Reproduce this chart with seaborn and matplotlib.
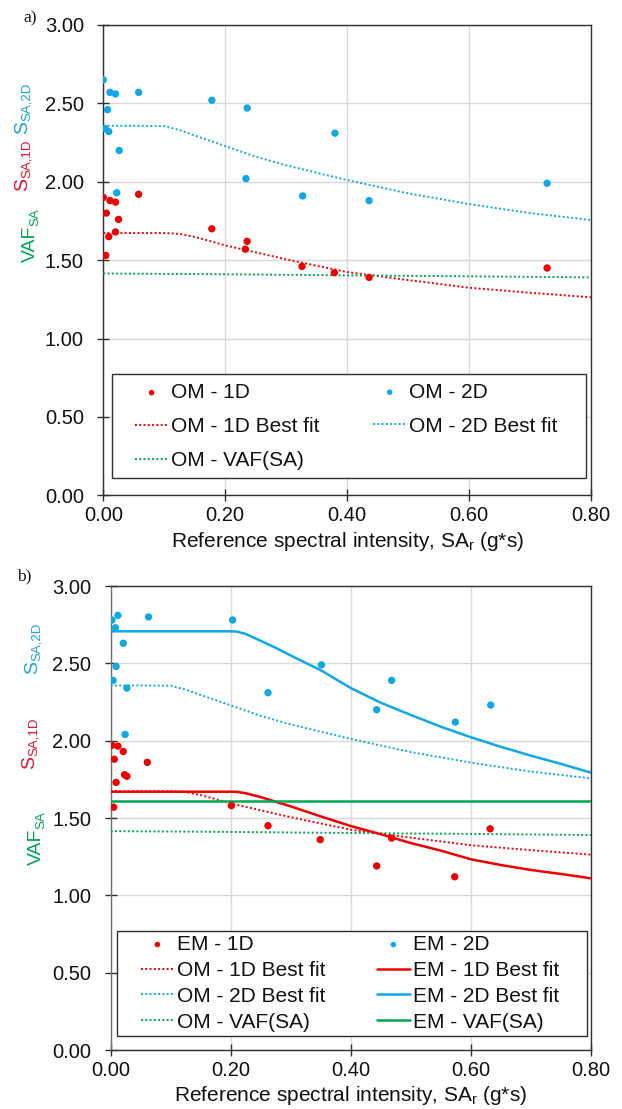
import matplotlib
matplotlib.use("Agg")
import matplotlib.pyplot as plt
from matplotlib.patches import Rectangle
import seaborn as sns

# ---------------- data ----------------
# Panel a) OM records
om1d_x = [0.000, 0.011, 0.020, 0.058, 0.005, 0.025, 0.020, 0.009, 0.004, 0.178, 0.236, 0.233, 0.326, 0.379, 0.436, 0.728]
om1d_y = [1.90, 1.88, 1.87, 1.92, 1.80, 1.76, 1.68, 1.65, 1.53, 1.70, 1.62, 1.57, 1.46, 1.42, 1.39, 1.45]
om2d_x = [0.000, 0.011, 0.020, 0.058, 0.178, 0.236, 0.007, 0.003, 0.009, 0.026, 0.234, 0.022, 0.380, 0.327, 0.436, 0.728]
om2d_y = [2.65, 2.57, 2.56, 2.57, 2.52, 2.47, 2.46, 2.34, 2.32, 2.20, 2.02, 1.93, 2.31, 1.91, 1.88, 1.99]

# OM best fits (shared by both panels)
om_fit_x = [0.00, 0.05, 0.10, 0.125, 0.15, 0.175, 0.20, 0.25, 0.30, 0.40, 0.50, 0.60, 0.70, 0.80]
om2d_fit = [2.357, 2.357, 2.355, 2.330, 2.295, 2.262, 2.228, 2.160, 2.105, 2.011, 1.926, 1.858, 1.800, 1.756]
om1d_fit = [1.673, 1.673, 1.673, 1.668, 1.648, 1.622, 1.594, 1.550, 1.505, 1.424, 1.373, 1.324, 1.292, 1.263]
om_vaf_x = [0.00, 0.20, 0.40, 0.60, 0.80]
om_vaf = [1.415, 1.410, 1.403, 1.397, 1.390]

# Panel b) EM records
em1d_x = [0.002, 0.012, 0.021, 0.006, 0.061, 0.023, 0.027, 0.009, 0.005, 0.201, 0.262, 0.349, 0.443, 0.468, 0.573, 0.632]
em1d_y = [1.97, 1.965, 1.93, 1.88, 1.86, 1.78, 1.77, 1.73, 1.57, 1.58, 1.45, 1.36, 1.19, 1.37, 1.12, 1.43]
em2d_x = [0.002, 0.012, 0.063, 0.203, 0.008, 0.021, 0.009, 0.004, 0.027, 0.262, 0.024, 0.351, 0.468, 0.443, 0.574, 0.633]
em2d_y = [2.78, 2.81, 2.80, 2.78, 2.73, 2.63, 2.48, 2.39, 2.34, 2.31, 2.04, 2.49, 2.39, 2.20, 2.12, 2.23]

em_fit_x = [0.00, 0.10, 0.20, 0.21, 0.225, 0.25, 0.275, 0.30, 0.35, 0.40, 0.45, 0.50, 0.55, 0.60, 0.65, 0.70, 0.75, 0.80]
em2d_fit = [2.707, 2.707, 2.707, 2.705, 2.690, 2.645, 2.600, 2.550, 2.455, 2.340, 2.245, 2.166, 2.090, 2.022, 1.960, 1.903, 1.850, 1.793]
em1d_fit = [1.670, 1.670, 1.670, 1.669, 1.660, 1.635, 1.605, 1.575, 1.510, 1.448, 1.395, 1.338, 1.289, 1.233, 1.196, 1.164, 1.138, 1.110]
em_vaf_x = [0.00, 0.80]
em_vaf = [1.612, 1.612]

x_ticks = [0.0, 0.2, 0.4, 0.6, 0.8]
y_ticks = [0.0, 0.5, 1.0, 1.5, 2.0, 2.5, 3.0]

legend_a_col1 = ["OM - 1D", "OM - 1D Best fit", "OM - VAF(SA)"]
legend_a_col2 = ["OM - 2D", "OM - 2D Best fit"]
legend_b_col1 = ["EM - 1D", "OM - 1D Best fit", "OM - 2D Best fit", "OM - VAF(SA)"]
legend_b_col2 = ["EM - 2D", "EM - 1D Best fit", "EM - 2D Best fit", "EM - VAF(SA)"]

# ---------------- style ----------------
sns.set_theme(style="white")
plt.rcParams["font.family"] = ["Liberation Sans", "DejaVu Sans"]
plt.rcParams["mathtext.default"] = "regular"
plt.rcParams["mathtext.fontset"] = "custom"
plt.rcParams["mathtext.rm"] = "Liberation Sans"

RED = "#EE0000"
BLUE = "#0FA8E6"
GREEN = "#00A650"
LBL_RED = "#E8102E"
LBL_BLUE = "#1AA5DA"
LBL_GREEN = "#00A651"
DOT = (0, (1, 1.2))
FS_TICK = 14.5
FS_LEG = 15
FS_LAB = 15
TXT = "#111111"

W, H = 622, 1109
fig = plt.figure(figsize=(W / 100, H / 100), dpi=100)
ax1 = fig.add_axes([103.3 / W, 1 - 495.3 / H, (591 - 103.3) / W, (495.3 - 25) / H])
ax2 = fig.add_axes([110.7 / W, 1 - 1050 / H, (591 - 110.7) / W, (1050 - 586) / H])


def style_axes(ax):
    ax.set_xlim(0, 0.8)
    ax.set_ylim(0, 3.0)
    ax.set_xticks(x_ticks)
    ax.set_yticks(y_ticks)
    ax.set_xticklabels([f"{v:.2f}" for v in x_ticks])
    ax.set_yticklabels([f"{v:.2f}" for v in y_ticks])
    ax.grid(True, color="#d9d9d9", lw=1)
    ax.set_axisbelow(True)
    for s in ax.spines.values():
        s.set_visible(True)
        s.set_color("#303030")
        s.set_linewidth(1.0)
    ax.tick_params(axis="both", which="both", direction="inout", length=9, width=1,
                   color="#303030", labelsize=FS_TICK, labelcolor=TXT,
                   bottom=True, left=True, top=False, right=False)
    ax.tick_params(axis="y", pad=9.5)
    ax.tick_params(axis="x", pad=3.5)
    ax.set_xlabel("Reference spectral intensity, SA$_r$ (g*s)", fontsize=FS_LAB, labelpad=3, color=TXT)
    ax.set_ylabel("")


def scatter(ax, x, y, color, label):
    sns.scatterplot(x=x, y=y, ax=ax, color=color, s=28, edgecolor="none", linewidth=0, label=label, zorder=4)


def line(ax, x, y, color, label, ls="-", lw=1.2):
    sns.lineplot(x=x, y=y, ax=ax, color=color, linestyle=ls, lw=lw, label=label, errorbar=None, zorder=3)


# ---- panel a ----
scatter(ax1, om1d_x, om1d_y, RED, "OM - 1D")
scatter(ax1, om2d_x, om2d_y, BLUE, "OM - 2D")
line(ax1, om_fit_x, om1d_fit, RED, "OM - 1D Best fit", DOT, 1.4)
line(ax1, om_fit_x, om2d_fit, BLUE, "OM - 2D Best fit", DOT, 1.4)
line(ax1, om_vaf_x, om_vaf, GREEN, "OM - VAF(SA)", DOT, 1.4)
style_axes(ax1)

# ---- panel b ----
scatter(ax2, em1d_x, em1d_y, RED, "EM - 1D")
scatter(ax2, em2d_x, em2d_y, BLUE, "EM - 2D")
line(ax2, om_fit_x, om1d_fit, RED, "OM - 1D Best fit", DOT, 1.4)
line(ax2, om_fit_x, om2d_fit, BLUE, "OM - 2D Best fit", DOT, 1.4)
line(ax2, om_vaf_x, om_vaf, GREEN, "OM - VAF(SA)", DOT, 1.4)
line(ax2, em_fit_x, em1d_fit, RED, "EM - 1D Best fit", "-", 1.8)
line(ax2, em_fit_x, em2d_fit, BLUE, "EM - 2D Best fit", "-", 1.8)
line(ax2, em_vaf_x, em_vaf, GREEN, "EM - VAF(SA)", "-", 1.8)
style_axes(ax2)
ax2.spines["left"].set_color("#707070")


def make_legend(ax, col1, col2, x1, x2, yc, frame, spacing):
    h, l = ax.get_legend_handles_labels()
    d = dict(zip(l, h))
    if ax.get_legend() is not None:
        ax.get_legend().remove()
    x0, y0, x1f, y1f = frame
    ax.add_patch(Rectangle((x0, y0), x1f - x0, y1f - y0, transform=ax.transAxes,
                           facecolor="white", edgecolor="#303030", lw=1.0, zorder=6))
    legs = []
    for cols, xa in ((col1, x1), (col2, x2)):
        leg = ax.legend([d[k] for k in cols], cols, loc="center left", bbox_to_anchor=(xa, yc),
                        frameon=False, fontsize=FS_LEG, borderpad=0, borderaxespad=0,
                        handlelength=1.6, handletextpad=0.12, labelspacing=spacing,
                        markerscale=0.75)
        leg.set_zorder(7)
        for t in leg.get_texts():
            t.set_color(TXT)
        legs.append(leg)
    ax.add_artist(legs[0])
    return legs


make_legend(ax1, legend_a_col1, legend_a_col2, 0.0648, 0.553, 0.1459, (0.0172, 0.0368, 0.989, 0.258), 0.72)
# column 2 of panel a has only two rows, centred on the first two rows
ax1.get_legend().set_bbox_to_anchor((0.553, 0.1831), transform=ax1.transAxes)
make_legend(ax2, legend_b_col1, legend_b_col2, 0.0625, 0.5538, 0.1437, (0.0137, 0.031, 0.992, 0.257), 0.33)


# ---- coloured y-axis labels (rotated, with subscripts) ----
def ylab(ax, xr, yb, main, sub, color):
    t = fig.text(xr / W, 1 - yb / H, main, rotation=90, ha="right", va="bottom",
                 fontsize=14, color=color)
    ax.annotate(sub, xy=(1, 1), xycoords=t, xytext=(1.5, 0), textcoords="offset points",
                rotation=90, ha="right", va="bottom", fontsize=9.5, color=color,
                annotation_clip=False)


ylab(ax1, 31, 134, "S", "SA,2D", LBL_BLUE)
ylab(ax1, 31, 191, "S", "SA,1D", LBL_RED)
ylab(ax1, 39, 262, "VAF", "SA", LBL_GREEN)
ylab(ax2, 41, 674, "S", "SA,2D", LBL_BLUE)
ylab(ax2, 38, 769, "S", "SA,1D", LBL_RED)
ylab(ax2, 45, 865, "VAF", "SA", LBL_GREEN)

fig.text(30 / W, 1 - 18 / H, "a)", fontsize=12.5, family="Liberation Serif", ha="center", va="center", color=TXT)
fig.text(24 / W, 1 - 576 / H, "b)", fontsize=12.5, family="Liberation Serif", ha="center", va="center", color=TXT)

fig.savefig("out.png", dpi=100)
